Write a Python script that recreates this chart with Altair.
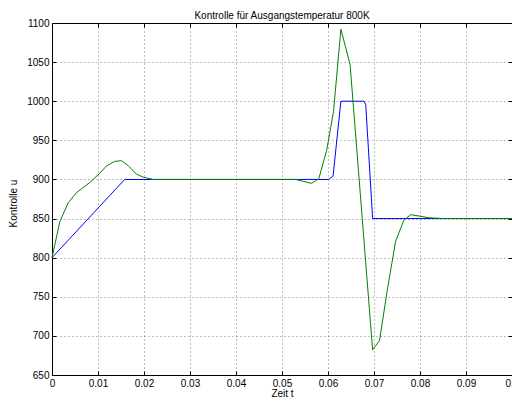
import altair as alt
import pandas as pd

blue_t = [0, 0.0158, 0.0601, 0.0611, 0.0628, 0.0678, 0.0682, 0.0697, 0.1]
blue_u = [800, 900, 900, 904, 1000, 1000, 996, 850, 850]

green_t = [0, 0.0017, 0.0035, 0.0053, 0.0082, 0.0104, 0.0118, 0.0136, 0.0151,
           0.0165, 0.0183, 0.0198, 0.022, 0.053, 0.0564, 0.058, 0.0597, 0.0612,
           0.0628, 0.0648, 0.0697, 0.0712, 0.0729, 0.0747, 0.0765, 0.078, 0.082,
           0.085, 0.1]
green_u = [800, 846, 870, 883, 896, 908, 917, 923, 924,
           918, 907, 903, 900, 900, 895, 901, 937, 987,
           1092, 1047, 682, 694, 759, 821, 848, 855, 851,
           850, 850]

x_ticks = [0, 0.01, 0.02, 0.03, 0.04, 0.05, 0.06, 0.07, 0.08, 0.09, 0.1]
y_ticks = [650, 700, 750, 800, 850, 900, 950, 1000, 1050, 1100]

rows = []
for i, (t, u) in enumerate(zip(blue_t, blue_u)):
    rows.append({"t": t, "u": u, "s": "blue", "i": i})
for i, (t, u) in enumerate(zip(green_t, green_u)):
    rows.append({"t": t, "u": u, "s": "green", "i": i})
df = pd.DataFrame(rows)

FONT = "Liberation Sans"
TICK = 4
xs = alt.Scale(domain=[0, 0.1], nice=False, zero=False)
ys = alt.Scale(domain=[650, 1100], nice=False, zero=False)
col = alt.Color("s:N", scale=alt.Scale(domain=["blue", "green"],
                                       range=["#0000ff", "#008000"]), legend=None)
GRID = dict(grid=True, gridColor="#000", gridOpacity=0.5, gridDash=[1, 3], gridWidth=1)

main = alt.Chart(df).mark_line(strokeWidth=1).encode(
    x=alt.X("t:Q", scale=xs,
            axis=alt.Axis(values=x_ticks, title="Zeit t", format="~g", orient="bottom",
                          offset=-TICK, ticks=True, tickSize=TICK, tickColor="#000",
                          domain=False, labelFlush=False, labelOverlap=False, **GRID)),
    y=alt.Y("u:Q", scale=ys,
            axis=alt.Axis(values=y_ticks, title="Kontrolle u", format="d", orient="left",
                          offset=-TICK, ticks=True, tickSize=TICK, tickColor="#000",
                          titleY=180,
                          domain=False, labelFlush=False, labelOverlap=False, **GRID)),
    color=col,
    order="i:Q",
)

mirror = alt.Chart(df).mark_line(strokeWidth=1, opacity=0).encode(
    x=alt.X("t:Q", scale=xs,
            axis=alt.Axis(values=x_ticks, title=None, labels=False, orient="top",
                          offset=-TICK, ticks=True, tickSize=TICK, tickColor="#000",
                          domain=False, grid=False)),
    y=alt.Y("u:Q", scale=ys,
            axis=alt.Axis(values=y_ticks, title=None, labels=False, orient="right",
                          offset=-TICK, ticks=True, tickSize=TICK, tickColor="#000",
                          domain=False, grid=False)),
    color=col,
    order="i:Q",
)

chart = alt.layer(mirror, main).resolve_axis(x="independent", y="independent").properties(
    width=460, height=352,
    title=alt.TitleParams("Kontrolle für Ausgangstemperatur 800K", fontSize=10,
                          font=FONT, fontWeight="normal", color="#000", offset=0, dy=3),
    autosize=alt.AutoSizeParams(type="none"),
    padding={"left": 52, "top": 23, "right": 0, "bottom": 28},
).configure_view(
    stroke="#000", strokeWidth=1
).configure_axis(
    labelFont=FONT, labelFontSize=10, labelColor="#000",
    titleFont=FONT, titleFontSize=10, titleColor="#000", titleFontWeight="normal",
).configure_axisX(
    labelPadding=3, titlePadding=0,
).configure_axisY(
    labelPadding=3, titlePadding=8,
)

chart.save("out.html", embed_options={"renderer": "svg", "actions": False})
